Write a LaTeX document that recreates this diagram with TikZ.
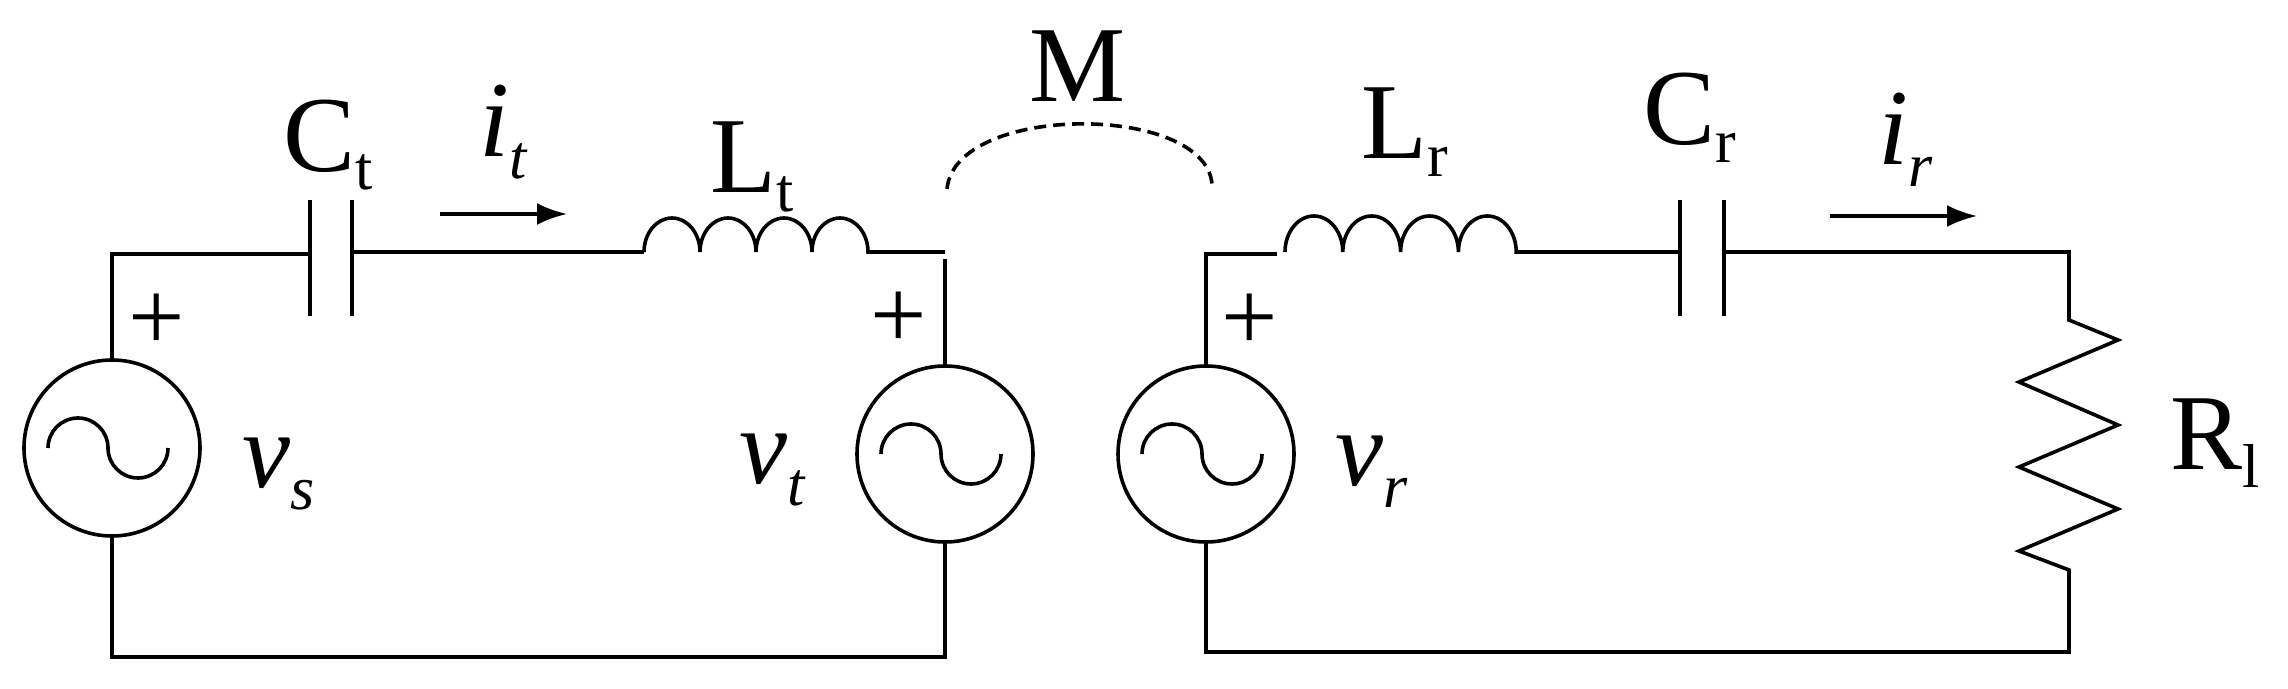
\documentclass[tikz,border=0pt]{standalone}
\usepackage{fontspec}
\setmainfont{Liberation Serif}
\usetikzlibrary{arrows.meta}
\newcommand{\sbu}[1]{\raisebox{-0.17em}{\fontsize{62}{62}\selectfont #1}}
\newcommand{\sbi}[1]{\raisebox{-0.2em}{\fontsize{62}{62}\selectfont\itshape #1}}
\begin{document}
\begin{tikzpicture}[x=1pt,y=1pt,line width=3.6pt,
  src/.style={circle,draw,line width=3.6pt,minimum size=176pt,inner sep=0pt},
  lab/.style={font=\fontsize{108}{108}\selectfont,inner sep=0pt},
  plus/.style={font=\fontsize{100}{100}\selectfont,inner sep=0pt},
  arr/.style={-{Latex[length=30pt,width=22pt]},line width=3.6pt}]
\useasboundingbox (0,0) rectangle (2288,688);
% sources
\node[src] (vs) at (112,240) {};
\node[src] (vt) at (945,234) {};
\node[src] (vr) at (1206,234) {};
\foreach \s in {vs,vt,vr}{
  \draw ([xshift=-64pt]\s.center) arc[start angle=180,end angle=0,radius=30pt]
     arc[start angle=180,end angle=360,radius=30pt];}
% coordinates
\coordinate (a1) at (112,434);
\coordinate (c1) at (310,434);
\coordinate (c2) at (352,436);
\coordinate (l1) at (644,436);
\coordinate (a2) at (945,436);
\coordinate (a3) at (945,429);
\coordinate (b1) at (112,31);
\coordinate (b2) at (945,31);
\coordinate (r1) at (1206,434);
\coordinate (r2) at (1277,434);
\coordinate (m1) at (1285,436);
\coordinate (k1) at (1680,436);
\coordinate (k2) at (1724,436);
\coordinate (e1) at (2069,436);
\coordinate (e2) at (2069,368);
\coordinate (e3) at (2069,118);
\coordinate (e4) at (2069,36);
\coordinate (rb) at (1206,36);
% left loop
\draw (vs.north) -- (a1) -- (c1);
\draw (310,372) -- (310,488);
\draw (352,372) -- (352,488);
\draw (c2) -- (l1);
\draw (l1) \foreach \i in {1,...,4}{ arc[start angle=180,end angle=0,x radius=28pt,y radius=34pt] } -- (a2);
\draw (a3) -- (vt.north);
\draw (vs.south) -- (b1) -- (b2) -- (vt.south);
% right loop
\draw (vr.north) -- (r1) -- (r2);
\draw (m1) \foreach \i in {1,...,4}{ arc[start angle=180,end angle=0,x radius=28.9pt,y radius=36pt] } -- (k1);
\draw (1680,372) -- (1680,488);
\draw (1724,372) -- (1724,488);
\draw (k2) -- (e1) -- (e2) -- (2118,348) -- (2019,306) -- (2118,263) -- (2019,221) -- (2118,179) -- (2019,137) -- (e3) -- (e4) -- (rb) -- (vr.south);
% mutual
\coordinate (d1) at (947,499);
\coordinate (d2) at (1212,504);
\draw[dash pattern=on 12pt off 7pt] (d1) .. controls (955,585) and (1205,585) .. (d2);
% arrows
\coordinate (ia) at (440,474); \coordinate (ib) at (567,474);
\draw[arr] (ia) -- (ib);
\coordinate (ja) at (1830,472); \coordinate (jb) at (1977,472);
\draw[arr] (ja) -- (jb);
% labels
\node[lab] (tCt) at (328,543) {C\sbu{t}};
\node[lab] (tit) at (503,556) {\textit{i}\sbi{t}};
\node[lab] (tLt) at (752,521) {L\sbu{t}};
\node[lab] (tM) at (1078,622) {M};
\node[lab] (tLr) at (1405,556) {L\sbu{r}};
\node[lab] (tCr) at (1690,570) {C\sbu{r}};
\node[lab] (tir) at (1906,548) {\textit{i}\sbi{r}};
\node[lab] (tR) at (2215,245) {R\sbu{l}};
\node[lab] (tvs) at (279,214) {\textit{v}\sbi{s}};
\node[lab] (tvt) at (772,218) {\textit{v}\sbi{t}};
\node[lab] (tvr) at (1372,216) {\textit{v}\sbi{r}};
\node[plus] (p1) at (157,366) {+};
\node[plus] (p2) at (899,368) {+};
\node[plus] (p3) at (1250,366) {+};
\end{tikzpicture}
\end{document}
